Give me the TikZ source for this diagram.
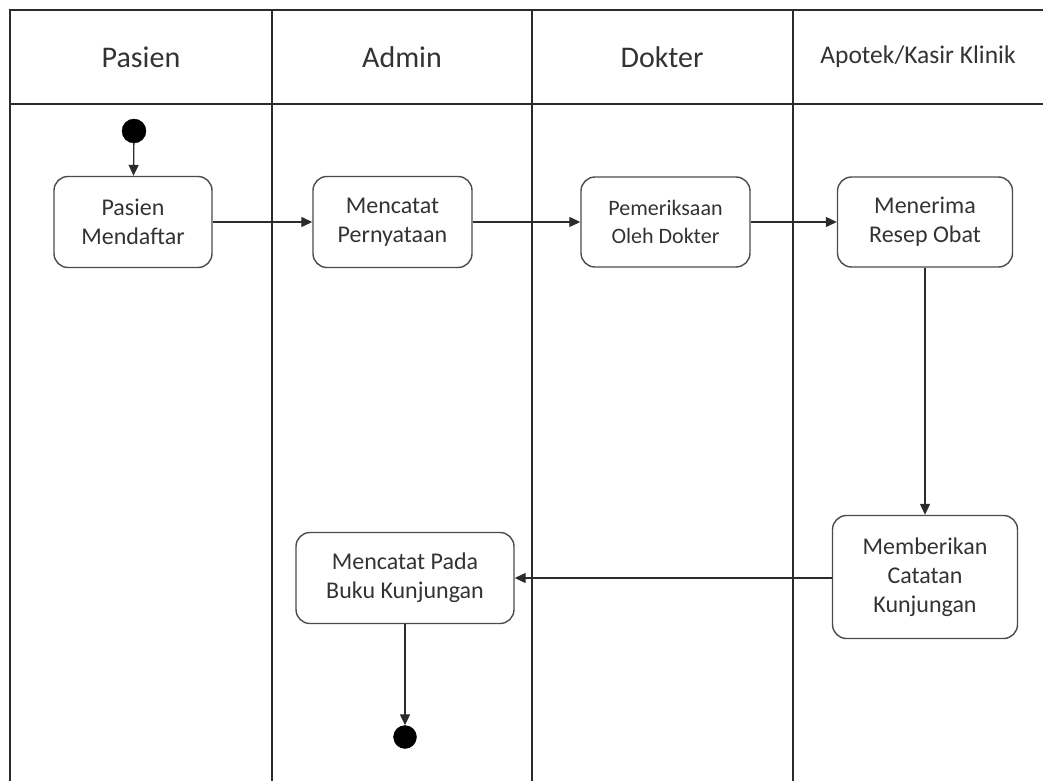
\documentclass[tikz,border=0pt]{standalone}
\usepackage{fontspec}
\setmainfont{Carlito}
\usetikzlibrary{arrows.meta}
\definecolor{ink}{HTML}{2B2B2B}
\definecolor{txt}{HTML}{333333}
\tikzset{
  lane/.style={draw=ink, line width=1.4pt},
  act/.style={draw=ink!85, line width=1.4pt, rectangle, rounded corners=14pt, align=center,
    text=txt, font=\fontsize{24}{29}\selectfont, inner sep=0pt},
  hdr/.style={text=txt, font=\fontsize{30}{36}\selectfont, inner sep=0pt},
  dot/.style={circle, fill=black, draw=black, inner sep=0pt},
  flow/.style={draw=ink, line width=1.3pt, -{Triangle[length=11pt,width=10pt]}}
}
\begin{document}
\begin{tikzpicture}[x=1pt,y=-1pt]
\useasboundingbox (0,0) rectangle (1043,781);
% swimlane frame
\draw[lane] (1043,10) -- (10,10) -- (10,781);
\draw[lane] (10,104) -- (1043,104);
\draw[lane] (272,10) -- (272,781);
\draw[lane] (532,10) -- (532,781);
\draw[lane] (793,10) -- (793,781);
% headers
\node[hdr] (h1) at (141,57) {Pasien};
\node[hdr] (h2) at (402,57) {Admin};
\node[hdr] (h3) at (662,57) {Dokter};
\node[hdr, font=\fontsize{25.5}{30}\selectfont] (h4) at (918,57) {Apotek/Kasir Klinik};
% activities
\node[dot, minimum size=24pt] (start) at (134,131) {};
\node[act, minimum width=158pt, minimum height=91pt] (pm) at (133,222) {Pasien\\Mendaftar};
\node[act, minimum width=159pt, minimum height=91pt] (mp) at (392.5,222) {Mencatat\\Pernyataan};
\node[act, minimum width=169pt, minimum height=90pt, font=\fontsize{22}{28}\selectfont] (pd) at (665.5,222) {Pemeriksaan\\Oleh Dokter};
\node[act, minimum width=175pt, minimum height=90pt] (mr) at (925,222) {Menerima\\Resep Obat};
\node[act, minimum width=185pt, minimum height=123pt] (mc) at (925,577) {Memberikan\\Catatan\\Kunjungan};
\node[act, minimum width=218pt, minimum height=91pt] (mb) at (405,578) {Mencatat Pada\\Buku Kunjungan};
\node[dot, minimum size=23pt] (end) at (405,737) {};
% flows
\draw[flow] (start) -- (pm);
\draw[flow] (pm) -- (mp);
\draw[flow] (mp) -- (pd);
\draw[flow] (pd) -- (mr);
\draw[flow] (mr) -- (mc);
\draw[flow] (mc.west |- mb.east) -- (mb.east);
\draw[flow] (mb) -- (end);
\end{tikzpicture}
\end{document}
